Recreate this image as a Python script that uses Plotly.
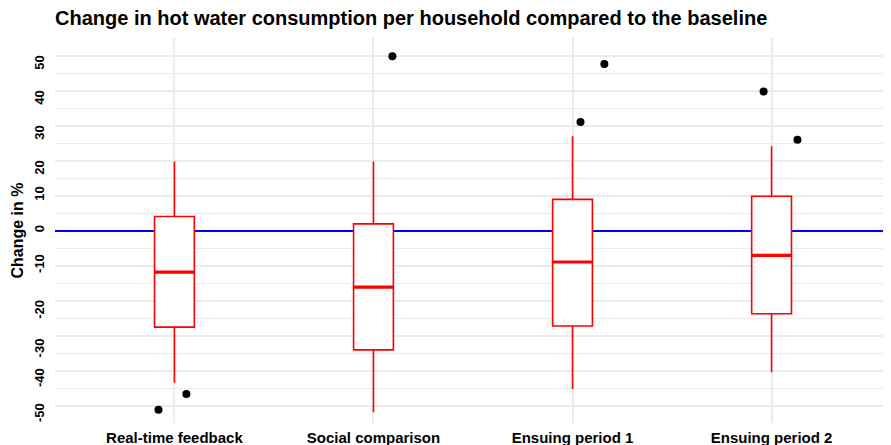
import plotly.graph_objects as go

categories = ["Real-time feedback", "Social comparison", "Ensuing period 1", "Ensuing period 2"]
lower_whisker = [-43.5, -51.9, -45.3, -40.5]
q1_values = [-27.6, -34.1, -27.3, -23.8]
median_values = [-11.9, -16.2, -9.0, -7.1]
q3_values = [4.0, 1.9, 8.9, 9.8]
upper_whisker = [19.7, 19.7, 26.9, 24.1]

outlier_category = [0, 0, 1, 2, 2, 3, 3]
outlier_jitter = [0.06, -0.08, 0.095, 0.16, 0.04, -0.04, 0.13]
outlier_values = [-46.7, -51.2, 49.8, 47.6, 31.0, 39.7, 25.9]

baseline = 0
y_ticks = [-50, -40, -30, -20, -10, 0, 10, 20, 30, 40, 50]

positions = list(range(1, len(categories) + 1))
font_family = "Liberation Sans, Arial, sans-serif"

# page is rendered with an 8px body margin; size the figure so it fits the window
PAGE_OFFSET = 8
W, H = 891 - PAGE_OFFSET, 445 - PAGE_OFFSET

# label placement tweak: the reference's rotated labels sit a little below their ticks
label_pad = {-50: 5, -40: 5, -30: 8, -20: 6, -10: 0, 0: 0, 10: 0, 20: 5, 30: 5, 40: 5, 50: 5}
y_tick_text = [f"<b>{v}</b>" + "\u00a0" * label_pad[v] for v in y_ticks]

fig = go.Figure()
fig.add_trace(go.Box(
    x=positions, q1=q1_values, median=median_values, q3=q3_values,
    lowerfence=lower_whisker, upperfence=upper_whisker,
    width=0.2, whiskerwidth=0, fillcolor="white", line=dict(color="#ff0000", width=1.6),
    boxpoints=False, showlegend=False, hoverinfo="skip",
))
# thicker median line: degenerate box at the median
fig.add_trace(go.Box(
    x=positions, q1=median_values, median=median_values, q3=median_values,
    lowerfence=median_values, upperfence=median_values,
    width=0.2, whiskerwidth=0, fillcolor="rgba(0,0,0,0)", line=dict(color="#ff0000", width=3.2),
    boxpoints=False, showlegend=False, hoverinfo="skip",
))
fig.add_trace(go.Scatter(
    x=[positions[c] + j for c, j in zip(outlier_category, outlier_jitter)],
    y=outlier_values, mode="markers",
    marker=dict(color="black", size=8), showlegend=False,
))

fig.update_layout(
    width=W, height=H,
    margin=dict(l=47, r=0, t=30, b=22),
    paper_bgcolor="white", plot_bgcolor="white",
    boxmode="overlay",
    font=dict(family=font_family, color="black"),
    title=dict(
        text="<b>Change in hot water consumption per household compared to the baseline</b>",
        font=dict(size=20, color="black", family=font_family),
        x=47 / W, xref="container", xanchor="left",
        y=1 - 10 / H, yref="container", yanchor="middle",
    ),
)
fig.update_xaxes(
    range=[0.4, 4.6], tickmode="array", tickvals=positions,
    ticktext=[f"<b>{c}</b>" for c in categories],
    tickfont=dict(size=15, color="black"), ticklabelstandoff=4,
    showgrid=True, gridcolor="#ebebeb", gridwidth=1.5,
    zeroline=False, showline=False, ticks="", automargin=False,
)
fig.update_yaxes(
    range=[-55, 55], tickmode="array", tickvals=y_ticks,
    ticktext=y_tick_text,
    tickangle=-90, tickfont=dict(size=13, color="black"), ticklabelstandoff=7,
    showgrid=True, gridcolor="#ebebeb", gridwidth=1.5,
    minor=dict(tickmode="linear", tick0=-55, dtick=5, showgrid=True, gridcolor="#ebebeb", gridwidth=1),
    zeroline=True, zerolinecolor="#0000ff", zerolinewidth=1.6,
    showline=False, ticks="", automargin=False,
    title=dict(text="<b>Change in %</b>", font=dict(size=16, color="black"), standoff=4),
)

fig.write_html("out.html")
